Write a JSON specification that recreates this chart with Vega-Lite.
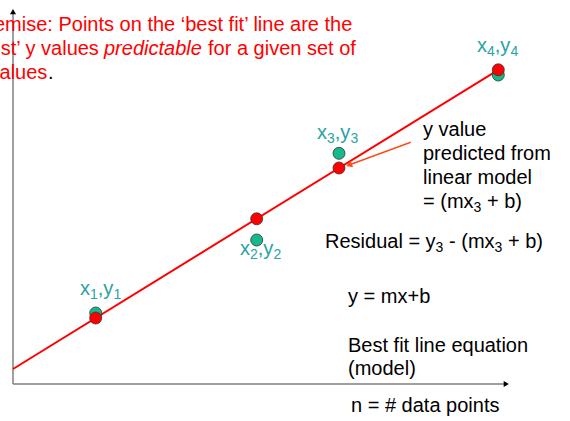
{
  "$schema": "https://vega.github.io/schema/vega-lite/v6.json",
  "width": 570,
  "height": 421,
  "padding": 0,
  "autosize": {"type": "none"},
  "background": "white",
  "config": {
    "view": {"stroke": null},
    "text": {"font": "Liberation Sans", "fontSize": 20, "align": "left", "baseline": "alphabetic"}
  },
  "datasets": {
    "axes": [
      {"x": 0, "y": 0, "x2": 0, "y2": 37.2},
      {"x": 0, "y": 0, "x2": 49.3, "y2": 0}
    ],
    "heads": [
      {"x": 0, "y": 37.23, "dir": "up"},
      {"x": 49.33, "y": 0, "dir": "right"}
    ],
    "fit": [
      {"x": 0, "y": 1.5},
      {"x": 48.53, "y": 31.42}
    ],
    "pointer": [
      {"x": 39.77, "y": 24.17, "x2": 33.6, "y2": 21.9}
    ],
    "pointerHead": [
      {"x": 33.6, "y": 21.9}
    ],
    "points": [
      {"x": 8.27, "y": 7.1, "kind": "observed"},
      {"x": 24.37, "y": 14.4, "kind": "observed"},
      {"x": 32.6, "y": 23.07, "kind": "observed"},
      {"x": 48.53, "y": 30.9, "kind": "observed"},
      {"x": 8.27, "y": 6.6, "kind": "predicted"},
      {"x": 24.37, "y": 16.52, "kind": "predicted"},
      {"x": 32.6, "y": 21.6, "kind": "predicted"},
      {"x": 48.53, "y": 31.42, "kind": "predicted"}
    ],
    "redText": [
      {"x": -3.9, "y": 35.3, "text": "Premise: Points on the ‘best fit’ line are the"},
      {"x": -3.9, "y": 32.9, "text": "‘best’ y values"},
      {"x": 19.5, "y": 32.9, "text": "for a given set of"},
      {"x": -3.9, "y": 30.5, "text": "x values"}
    ],
    "redItalic": [
      {"x": 9.1, "y": 32.9, "text": "predictable"}
    ],
    "blackText": [
      {"x": 3.5, "y": 30.5, "text": "."},
      {"x": 41.0, "y": 24.8, "text": "y value"},
      {"x": 41.0, "y": 22.4, "text": "predicted from"},
      {"x": 41.0, "y": 20.0, "text": "linear model"},
      {"x": 41.0, "y": 17.6, "text": "= (mx"},
      {"x": 47.4, "y": 17.6, "text": "+ b)"},
      {"x": 31.2, "y": 13.6, "text": "Residual = y"},
      {"x": 43.6, "y": 13.6, "text": "- (mx"},
      {"x": 49.49, "y": 13.6, "text": "+ b)"},
      {"x": 33.5, "y": 8.1, "text": "y = mx+b"},
      {"x": 33.5, "y": 3.2, "text": "Best fit line equation"},
      {"x": 33.5, "y": 0.9, "text": "(model)"},
      {"x": 33.8, "y": -2.8, "text": "n = # data points"}
    ],
    "blackSub": [
      {"x": 46.06, "y": 17.6, "text": "3"},
      {"x": 42.26, "y": 13.6, "text": "3"},
      {"x": 48.15, "y": 13.6, "text": "3"}
    ],
    "tealText": [
      {"x": 6.7, "y": 8.9, "text": "x"},
      {"x": 8.48, "y": 8.9, "text": ",y"},
      {"x": 22.7, "y": 12.9, "text": "x"},
      {"x": 24.48, "y": 12.9, "text": ",y"},
      {"x": 30.4, "y": 24.5, "text": "x"},
      {"x": 32.18, "y": 24.5, "text": ",y"},
      {"x": 46.4, "y": 33.2, "text": "x"},
      {"x": 48.18, "y": 33.2, "text": ",y"}
    ],
    "tealSub": [
      {"x": 7.7, "y": 8.9, "text": "1"},
      {"x": 10.04, "y": 8.9, "text": "1"},
      {"x": 23.7, "y": 12.9, "text": "2"},
      {"x": 26.04, "y": 12.9, "text": "2"},
      {"x": 31.4, "y": 24.5, "text": "3"},
      {"x": 33.74, "y": 24.5, "text": "3"},
      {"x": 47.4, "y": 33.2, "text": "4"},
      {"x": 49.74, "y": 33.2, "text": "4"}
    ]
  },
  "encoding": {
    "x": {"field": "x", "type": "quantitative", "scale": {"domain": [-1.3, 55.7], "nice": false, "zero": false}, "axis": null},
    "y": {"field": "y", "type": "quantitative", "scale": {"domain": [-3.7, 38.4], "nice": false, "zero": false}, "axis": null}
  },
  "layer": [
    {
      "data": {"name": "axes"},
      "mark": {"type": "rule", "color": "#808080", "strokeWidth": 1.5},
      "encoding": {"x2": {"field": "x2"}, "y2": {"field": "y2"}}
    },
    {
      "data": {"name": "heads"},
      "mark": {"type": "point", "filled": true, "color": "black", "size": 36, "opacity": 1},
      "encoding": {
        "shape": {"field": "dir", "type": "nominal", "scale": {"domain": ["up", "right"], "range": ["triangle-up", "triangle-right"]}, "legend": null}
      }
    },
    {
      "data": {"name": "fit"},
      "mark": {"type": "line", "color": "#ff0000", "strokeWidth": 2}
    },
    {
      "data": {"name": "points"},
      "mark": {"type": "circle", "size": 144, "stroke": "#333333", "strokeWidth": 0.8, "opacity": 1},
      "encoding": {
        "color": {"field": "kind", "type": "nominal", "scale": {"domain": ["observed", "predicted"], "range": ["#16b98c", "#ff0000"]}, "legend": null}
      }
    },
    {
      "data": {"name": "pointer"},
      "mark": {"type": "rule", "color": "#ff4a1c", "strokeWidth": 1.5},
      "encoding": {"x2": {"field": "x2"}, "y2": {"field": "y2"}}
    },
    {
      "data": {"name": "pointerHead"},
      "mark": {"type": "point", "shape": "triangle-right", "angle": 160, "filled": true, "color": "#ff4a1c", "size": 50, "opacity": 1}
    },
    {
      "data": {"name": "redText"},
      "mark": {"type": "text", "color": "#ff0000"},
      "encoding": {"text": {"field": "text"}}
    },
    {
      "data": {"name": "redItalic"},
      "mark": {"type": "text", "color": "#ff0000", "fontStyle": "italic"},
      "encoding": {"text": {"field": "text"}}
    },
    {
      "data": {"name": "blackText"},
      "mark": {"type": "text", "color": "#000000"},
      "encoding": {"text": {"field": "text"}}
    },
    {
      "data": {"name": "blackSub"},
      "mark": {"type": "text", "color": "#000000", "fontSize": 14, "dy": 4},
      "encoding": {"text": {"field": "text"}}
    },
    {
      "data": {"name": "tealText"},
      "mark": {"type": "text", "color": "#2aa3a3"},
      "encoding": {"text": {"field": "text"}}
    },
    {
      "data": {"name": "tealSub"},
      "mark": {"type": "text", "color": "#2aa3a3", "fontSize": 14, "dy": 4},
      "encoding": {"text": {"field": "text"}}
    }
  ]
}
